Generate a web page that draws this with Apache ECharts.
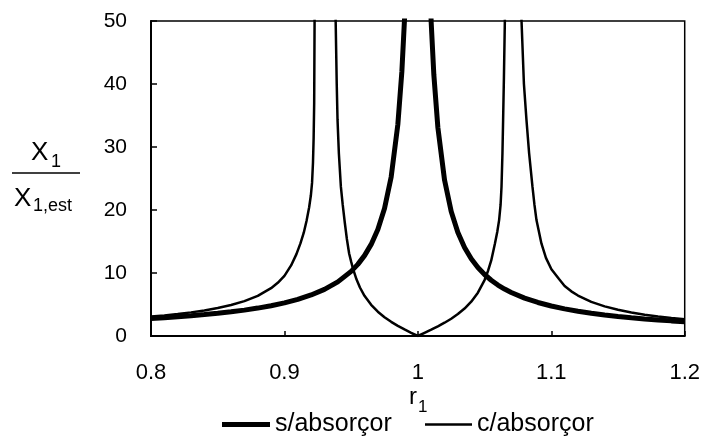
<!DOCTYPE html>
<html>
<head>
    <meta charset="UTF-8">
    <title>X1 / X1,est vs r1</title>
    <script src="https://cdn.jsdelivr.net/npm/echarts@6/dist/echarts.min.js"></script>
</head>
<body style="margin:0;">
    <div id="main" style="width: 703px;height:438px;"></div>
    <script type="text/javascript">
        // s/absorçor (thick curve)
        var rPlain = [0.80, 0.81, 0.82, 0.83, 0.84, 0.85, 0.86, 0.87, 0.88, 0.89, 0.90, 0.91, 0.92, 0.93, 0.94, 0.95,
            0.955, 0.96, 0.965, 0.97, 0.975, 0.98, 0.985, 0.988, 0.99, 0.993, 0.996,
            1.0,
            1.004, 1.007, 1.01, 1.012, 1.015, 1.02, 1.025, 1.03, 1.035, 1.04, 1.045, 1.05, 1.055, 1.06, 1.065, 1.07,
            1.08, 1.09, 1.10, 1.11, 1.12, 1.13, 1.14, 1.15, 1.16, 1.17, 1.18, 1.19, 1.20];
        var xPlain = [2.78, 2.91, 3.05, 3.21, 3.40, 3.60, 3.84, 4.11, 4.43, 4.81, 5.26, 5.82, 6.51, 7.40, 8.59, 10.26,
            11.37, 12.76, 14.54, 16.92, 20.25, 25.25, 33.58, 41.92, 50.25, 71.7, 125,
            null,
            124.8, 71.2, 49.75, 41.42, 33.09, 24.75, 19.75, 16.42, 14.04, 12.25, 10.87, 9.76, 8.85, 8.09, 7.45, 6.90,
            6.01, 5.32, 4.76, 4.31, 3.93, 3.61, 3.34, 3.10, 2.89, 2.71, 2.55, 2.40, 2.27];

        // c/absorçor (thin curve)
        var rAbs = [0.80, 0.81, 0.82, 0.83, 0.84, 0.85, 0.86, 0.87, 0.88, 0.89, 0.895, 0.90, 0.905, 0.909, 0.912,
            0.9145, 0.9166, 0.9185, 0.9198, 0.9207, 0.9214, 0.9219, 0.9223, 0.9226, 0.9231,
            0.931,
            0.9379, 0.9384, 0.9392, 0.9398, 0.9408, 0.9423, 0.9437, 0.9453, 0.9468, 0.9485,
            0.95, 0.9515, 0.954, 0.9566, 0.96, 0.965, 0.97, 0.975, 0.98, 0.985,
            0.99, 0.995, 1.0, 1.005, 1.01, 1.015, 1.02, 1.025, 1.03, 1.035,
            1.04, 1.045, 1.05, 1.0527, 1.055, 1.0577, 1.0595, 1.0609, 1.062, 1.0627,
            1.0634, 1.0639, 1.0645, 1.0652, 1.0657,
            1.0715,
            1.0772, 1.0777, 1.0795, 1.0814, 1.0834, 1.0859, 1.0874, 1.0889, 1.0926, 1.096,
            1.1001, 1.1058, 1.11, 1.115, 1.12, 1.13, 1.14, 1.15, 1.16, 1.17, 1.18, 1.19, 1.20];
        var xAbs = [3.08, 3.27, 3.49, 3.75, 4.06, 4.44, 4.91, 5.53, 6.37, 7.59, 8.44, 9.55, 11.2, 13.0, 14.7,
            16.4, 18.3, 20.4, 22.3, 24.3, 27.5, 31.5, 37, 50, 75,
            null,
            75, 50, 40, 34.3, 29.0, 23.7, 20.8, 17.9, 15.4, 13.1,
            11.8, 10.6, 9.0, 7.7, 6.38, 4.95, 3.86, 2.98, 2.25, 1.61,
            1.04, 0.51, 0, 0.50, 1.0, 1.54, 2.11, 2.74, 3.48, 4.36,
            5.45, 6.88, 8.88, 10.4, 12.0, 14.6, 16.5, 18.4, 20.8, 23.7,
            29, 34.3, 41, 50, 75,
            null,
            75, 50, 40, 34.3, 29.0, 23.7, 20.8, 18.4, 14.7, 12.4,
            10.6, 9.05, 7.94, 7.09, 6.42, 5.41, 4.70, 4.16, 3.74, 3.39, 3.11, 2.87, 2.67];

        var seriesNames = ['s/absorçor', 'c/absorçor'];

        function pairs(rs, vs) {
            return rs.map(function (r, i) { return [r, vs[i]]; });
        }

        var font = 'Liberation Sans, Arial, sans-serif';
        var legendText = { fontSize: 25, color: '#000', fontFamily: font };
        var myChart = echarts.init(document.getElementById('main'));

        var option = {
            animation: false,
            backgroundColor: '#fff',
            grid: {
                left: 151, right: 18, top: 21, bottom: 102,
                show: true, borderColor: '#000', borderWidth: 1.5
            },
            // one legend per series so each sample keeps its own line thickness
            legend: [
                {
                    data: [seriesNames[0]],
                    icon: 'rect',
                    left: 217,
                    top: 407,
                    itemWidth: 48,
                    itemHeight: 5,
                    textStyle: legendText
                },
                {
                    data: [seriesNames[1]],
                    icon: 'rect',
                    left: 420,
                    top: 407,
                    itemWidth: 47,
                    itemHeight: 2.5,
                    textStyle: legendText
                }
            ],
            xAxis: {
                type: 'value',
                min: 0.8,
                max: 1.2,
                interval: 0.1,
                axisLine: { lineStyle: { color: '#000', width: 2 } },
                axisTick: { inside: true, length: 5, lineStyle: { color: '#000', width: 1.5 } },
                axisLabel: { margin: 26, color: '#000', fontSize: 22, fontFamily: font },
                splitLine: { show: false }
            },
            yAxis: {
                type: 'value',
                min: 0,
                max: 50,
                interval: 10,
                axisLine: { show: true, lineStyle: { color: '#000', width: 2 } },
                axisTick: { show: true, inside: true, length: 6, lineStyle: { color: '#000', width: 1.5 } },
                axisLabel: { margin: 24, color: '#000', fontSize: 21, fontFamily: font },
                splitLine: { show: false }
            },
            graphic: [
                { type: 'text', style: { text: 'X', x: 31, y: 153, fill: '#000', font: '26px ' + font, verticalAlign: 'middle', textVerticalAlign: 'middle' } },
                { type: 'text', style: { text: '1', x: 51, y: 162, fill: '#000', font: '18px ' + font, verticalAlign: 'middle', textVerticalAlign: 'middle' } },
                { type: 'line', shape: { x1: 12, y1: 173, x2: 80, y2: 173 }, style: { stroke: '#000', lineWidth: 1.5 } },
                { type: 'text', style: { text: 'X', x: 14, y: 199, fill: '#000', font: '26px ' + font, verticalAlign: 'middle', textVerticalAlign: 'middle' } },
                { type: 'text', style: { text: '1,est', x: 33, y: 206, fill: '#000', font: '18px ' + font, verticalAlign: 'middle', textVerticalAlign: 'middle' } },
                { type: 'text', style: { text: 'r', x: 409, y: 397, fill: '#000', font: '24px ' + font, verticalAlign: 'middle', textVerticalAlign: 'middle' } },
                { type: 'text', style: { text: '1', x: 418, y: 407, fill: '#000', font: '17px ' + font, verticalAlign: 'middle', textVerticalAlign: 'middle' } }
            ],
            series: [
                {
                    name: seriesNames[0],
                    type: 'line',
                    data: pairs(rPlain, xPlain),
                    showSymbol: false,
                    symbol: 'none',
                    connectNulls: false,
                    clip: true,
                    lineStyle: { color: '#000', width: 5 },
                    itemStyle: { color: '#000' }
                },
                {
                    name: seriesNames[1],
                    type: 'line',
                    data: pairs(rAbs, xAbs),
                    showSymbol: false,
                    symbol: 'none',
                    connectNulls: false,
                    clip: true,
                    lineStyle: { color: '#000', width: 2.5 },
                    itemStyle: { color: '#000' }
                }
            ]
        };

        myChart.setOption(option);
    </script>
</body>
</html>
